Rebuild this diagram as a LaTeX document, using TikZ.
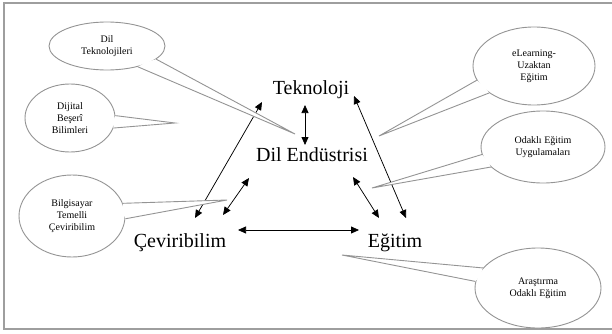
\documentclass[tikz,border=0pt]{standalone}
\usepackage{fontspec}
\setmainfont{Liberation Serif}
\usetikzlibrary{shapes.geometric,arrows.meta,calc}
\definecolor{calloutgray}{gray}{0.58}
\definecolor{framegray}{gray}{0.62}
\tikzset{
  bigtext/.style={font=\fontsize{20}{22}\selectfont, inner sep=0pt, anchor=base},
  callout/.style={ellipse, draw=calloutgray, line width=0.9pt, fill=white, inner sep=0pt,
     align=center, font=\fontsize{10}{12}\selectfont},
  tailline/.style={draw=calloutgray, line width=0.9pt, line join=miter},
  link/.style={line width=0.75pt, {Triangle[length=8pt,width=7pt]}-{Triangle[length=8pt,width=7pt]}},
}
\begin{document}
\begin{tikzpicture}[x=1pt,y=-1pt]
\useasboundingbox (0,0) rectangle (612,334);
\begin{scope}
\clip (0,0) rectangle (612,334);
\draw[framegray, line width=1.6pt] (4,3) rectangle (640,329);
\end{scope}

% main labels
\node[bigtext] (tek) at (311,95) {Teknoloji};
\node[bigtext] (dil) at (312,161) {Dil Endüstrisi};
\node[bigtext] (cev) at (180,247) {Çeviribilim};
\node[bigtext] (egi) at (395,247) {Eğitim};

% connector endpoints
\coordinate (tekS) at (305,105);
\coordinate (dilN) at (305,145);
\coordinate (tekL) at (262,102);
\coordinate (cevT) at (195,218);
\coordinate (dilL) at (249,178);
\coordinate (cevR) at (223,215);
\coordinate (dilR) at (353,177);
\coordinate (egiL) at (379,218);
\coordinate (tekR) at (354,96);
\coordinate (egiT) at (406,218);
\coordinate (cevE) at (238,230);
\coordinate (egiW) at (359,230);

\draw[link] (tekS) -- (dilN);
\draw[link] (cevT) -- (tekL);
\draw[link] (cevR) -- (dilL);
\draw[link] (dilR) -- (egiL);
\draw[link] (tekR) -- (egiT);
\draw[link] (cevE) -- (egiW);

% callouts: ellipse, then cover gap and draw tail
\newcommand{\calloutTail}[4]{%
  \fill[white] (#1.#2) -- (#4) -- (#1.#3) -- ($($(#1.#2)!0.5!(#1.#3)$)!1.5pt!(#1.center)$) -- cycle;
  \draw[tailline] (#1.#2) -- (#4) -- (#1.#3);
}

\node[callout, minimum width=116pt, minimum height=48pt] (c1) at (107,46) {Dil\\Teknolojileri};
\coordinate (t1) at (295,134);
\calloutTail{c1}{-15}{-34}{t1}

\node[callout, minimum width=90pt, minimum height=68pt] (c2) at (70,118) {Dijital\\Beşerî\\Bilimleri};
\coordinate (t2) at (175,123);
\calloutTail{c2}{3}{-13}{t2}

\node[callout, minimum width=106pt, minimum height=82pt] (c3) at (72,216) {Bilgisayar\\Temelli\\Çeviribilim};
\coordinate (t3) at (227,200);
\calloutTail{c3}{14}{-3}{t3}

\node[callout, minimum width=122pt, minimum height=78pt] (c4) at (534,66) {eLearning-\\Uzaktan\\Eğitim};
\coordinate (t4) at (379,136);
\calloutTail{c4}{194}{211}{t4}

\node[callout, minimum width=124pt, minimum height=72pt] (c5) at (543,147) {Odaklı Eğitim\\Uygulamaları};
\coordinate (t5) at (372,188);
\calloutTail{c5}{187}{201}{t5}

\node[callout, minimum width=126pt, minimum height=80pt] (c6) at (538,288) {Araştırma\\Odaklı Eğitim};
\coordinate (t6) at (342,255);
\calloutTail{c6}{160}{174}{t6}

\end{tikzpicture}
\end{document}
